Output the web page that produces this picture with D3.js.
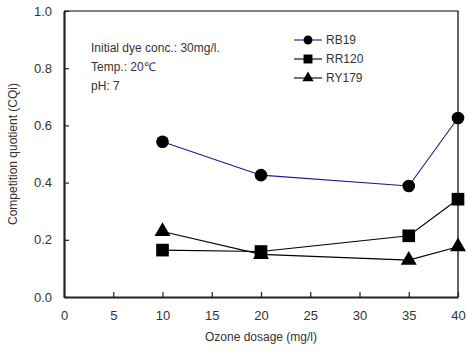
<!DOCTYPE html>
<html>
<head>
<meta charset="utf-8">
<style>
  body { margin: 0; background: #fff; }
  text { font-family: "Liberation Sans", Arial, sans-serif; }
</style>
</head>
<body>
<script src="https://cdnjs.cloudflare.com/ajax/libs/d3/7.8.5/d3.min.js"></script>
<script>
var dosage = [10, 20, 35, 40];
var rb19 = [0.543, 0.426, 0.388, 0.626];
var rr120 = [0.164, 0.159, 0.214, 0.342];
var ry179 = [0.229, 0.149, 0.129, 0.176];
var xTicks = [0, 5, 10, 15, 20, 25, 30, 35, 40];
var yTicks = [0.0, 0.2, 0.4, 0.6, 0.8, 1.0];
var notes = ["Initial dye conc.: 30mg/l.", "Temp.: 20\u2103", "pH: 7"];

var series = [
  { name: "RB19", values: rb19, symbol: d3.symbolCircle, size: 125, color: "#1a1a8c" },
  { name: "RR120", values: rr120, symbol: d3.symbolSquare, size: 160, color: "#000" },
  { name: "RY179", values: ry179, symbol: d3.symbolTriangle, size: 110, color: "#000" }
];

var w = 467, h = 354;
var pLeft = 64, pRight = 458, pTop = 11, pBottom = 297;

var svg = d3.select("body").append("svg")
    .attr("width", w)
    .attr("height", h);

var x = d3.scaleLinear().domain([0, 40]).range([pLeft, pRight]);
var y = d3.scaleLinear().domain([0, 1]).range([pBottom, pTop]);

// frame (top and right)
svg.append("path")
    .attr("d", "M" + pLeft + "," + pTop + "H" + pRight + "V" + pBottom)
    .attr("fill", "none")
    .attr("stroke", "#000")
    .attr("stroke-width", 1.2);

var xAxis = svg.append("g")
    .attr("transform", "translate(0," + pBottom + ")")
    .call(d3.axisBottom(x).tickValues(xTicks).tickSizeInner(-5).tickSizeOuter(0).tickPadding(14));
var yAxis = svg.append("g")
    .attr("transform", "translate(" + pLeft + ",0)")
    .call(d3.axisLeft(y).tickValues(yTicks).tickSizeInner(-5).tickSizeOuter(0).tickPadding(12)
      .tickFormat(d3.format(".1f")));

[xAxis, yAxis].forEach(function(a) {
  a.select(".domain").attr("stroke", "#222").attr("stroke-width", 2.2);
  a.selectAll(".tick line").attr("stroke", "#222").attr("stroke-width", 1.2);
  a.selectAll(".tick text").attr("fill", "#333").style("font-size", "13px");
});

svg.append("text")
    .attr("x", (pLeft + pRight) / 2)
    .attr("y", 341)
    .attr("text-anchor", "middle")
    .attr("fill", "#333")
    .style("font-size", "12px")
    .text("Ozone dosage (mg/l)");

svg.append("text")
    .attr("transform", "translate(17," + ((pTop + pBottom) / 2) + ") rotate(-90)")
    .attr("text-anchor", "middle")
    .attr("fill", "#333")
    .style("font-size", "12px")
    .text("Competition quotient (CQi)");

// notes
svg.selectAll(".note")
    .data(notes)
    .enter().append("text")
    .attr("class", "note")
    .attr("x", 91)
    .attr("y", function(d, i) { return 52 + i * 19; })
    .attr("fill", "#333")
    .style("font-size", "12px")
    .text(function(d) { return d; });

var line = d3.line()
    .x(function(d, i) { return x(dosage[i]); })
    .y(function(d) { return y(d); });

series.forEach(function(s) {
  svg.append("path")
      .datum(s.values)
      .attr("d", line)
      .attr("fill", "none")
      .attr("stroke", s.color)
      .attr("stroke-width", 1.1);
  svg.selectAll(null)
      .data(s.values)
      .enter().append("path")
      .attr("transform", function(d, i) { return "translate(" + x(dosage[i]) + "," + y(d) + ")"; })
      .attr("d", d3.symbol().type(s.symbol).size(s.size))
      .attr("fill", "#000");
});

// legend
var lg = svg.selectAll(".legend")
    .data(series)
    .enter().append("g")
    .attr("class", "legend")
    .attr("transform", function(d, i) { return "translate(294," + (40 + i * 19) + ")"; });
lg.append("line")
    .attr("x1", 0).attr("x2", 28)
    .attr("stroke", function(d) { return d.color; })
    .attr("stroke-width", 1.1);
lg.append("path")
    .attr("transform", "translate(14,0)")
    .attr("d", function(d) { return d3.symbol().type(d.symbol).size(d.size * 0.5)(); })
    .attr("fill", "#000");
lg.append("text")
    .attr("x", 32)
    .attr("dy", "0.35em")
    .attr("fill", "#333")
    .style("font-size", "12px")
    .text(function(d) { return d.name; });
</script>
</body>
</html>
